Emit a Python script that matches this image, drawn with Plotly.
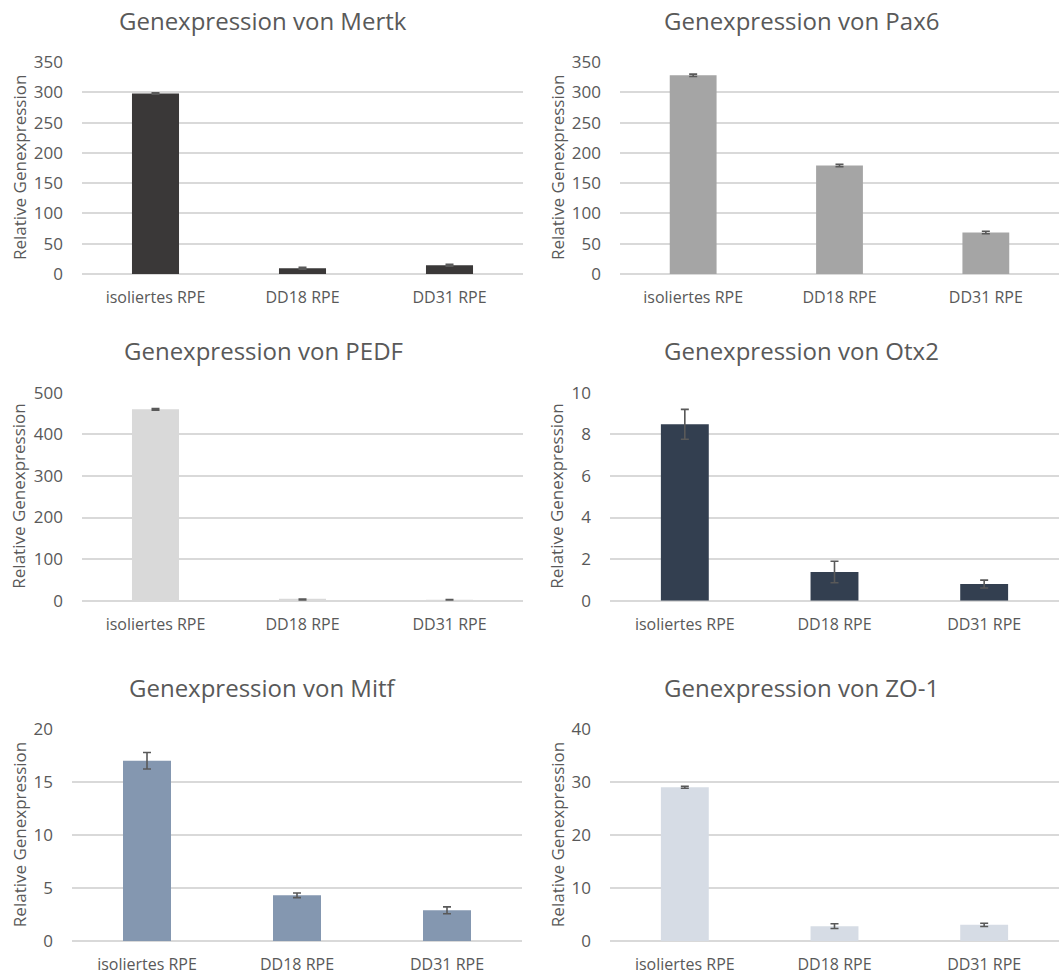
import plotly.graph_objects as go

categories = ["isoliertes RPE", "DD18 RPE", "DD31 RPE"]

genes = ["Mertk", "Pax6", "PEDF", "Otx2", "Mitf", "ZO-1"]
mertk = [298, 9.5, 14.5]
mertk_err = [1.0, 1.5, 1.5]
pax6 = [328, 179, 68.5]
pax6_err = [2.0, 2.0, 2.0]
pedf = [460, 2.5, 1.0]
pedf_err = [2.0, 1.5, 1.5]
otx2 = [8.48, 1.38, 0.80]
otx2_err = [0.72, 0.52, 0.19]
mitf = [17.03, 4.32, 2.90]
mitf_err = [0.78, 0.22, 0.32]
zo1 = [29.05, 2.8, 3.05]
zo1_err = [0.2, 0.45, 0.3]

values = [mertk, pax6, pedf, otx2, mitf, zo1]
errors = [mertk_err, pax6_err, pedf_err, otx2_err, mitf_err, zo1_err]
colors = ["#3A3838", "#A5A5A5", "#D9D9D9", "#333F50", "#8497B0", "#D6DCE5"]
y_max = [350, 350, 500, 10, 20, 40]
y_step = [50, 50, 100, 2, 5, 10]

W, H = 1059, 974
# plot-area boxes in pixels: (left, right, top, bottom)
boxes = [
    (82, 523, 62, 274),
    (620, 1059, 62, 274),
    (82, 523, 392.7, 600.7),
    (610, 1059, 392.7, 600.7),
    (72, 522, 729.3, 941),
    (610, 1059, 729.3, 941),
]
title_pos = [(263, 21), (801, 21), (263, 351), (801, 351), (263, 687), (801, 687)]
ytitle_x = [19, 557, 19, 557, 19, 557]

FONT = "Open Sans"
TXT = "#595959"
GRID = "#D9D9D9"

fig = go.Figure()
annotations = []
layout_axes = {}

for i, gene in enumerate(genes):
    n = "" if i == 0 else str(i + 1)
    left, right, top, bottom = boxes[i]
    fig.add_trace(go.Bar(
        x=categories, y=values[i],
        marker=dict(color=colors[i], line=dict(width=0)),
        width=0.32,
        error_y=dict(type="data", array=errors[i], visible=True,
                     color=TXT, thickness=1.6, width=4),
        xaxis="x" + n, yaxis="y" + n, showlegend=False,
        hoverinfo="x+y",
    ))
    layout_axes["xaxis" + n] = dict(
        domain=[left / W, right / W], anchor="y" + n,
        showgrid=False, showline=False, zeroline=False, ticks="",
        tickfont=dict(family=FONT, size=16, color=TXT),
        ticklabelstandoff=12,
        range=[-0.5, 2.5], automargin=False,
    )
    layout_axes["yaxis" + n] = dict(
        domain=[1 - bottom / H, 1 - top / H], anchor="x" + n,
        range=[0, y_max[i]], dtick=y_step[i], tick0=0,
        showgrid=True, gridcolor=GRID, gridwidth=1.5,
        zeroline=True, zerolinecolor=GRID, zerolinewidth=1.5,
        showline=False, ticks="", ticklabelstandoff=18,
        tickfont=dict(family=FONT, size=17, color=TXT),
        automargin=False,
    )
    tx, ty = title_pos[i]
    annotations.append(dict(
        text="Genexpression von " + gene, x=tx / W, y=1 - ty / H,
        xref="paper", yref="paper", xanchor="center", yanchor="middle",
        showarrow=False, font=dict(family=FONT, size=24, color=TXT),
    ))
    annotations.append(dict(
        text="Relative Genexpression", x=ytitle_x[i] / W,
        y=1 - (top + bottom) / 2 / H,
        xref="paper", yref="paper", xanchor="center", yanchor="middle",
        textangle=-90, showarrow=False,
        font=dict(family=FONT, size=17, color=TXT),
    ))

fig.update_layout(
    width=W, height=H,
    margin=dict(l=0, r=0, t=0, b=0, autoexpand=False),
    paper_bgcolor="white", plot_bgcolor="white",
    annotations=annotations,
    **layout_axes,
)

fig.write_html("out.html")
